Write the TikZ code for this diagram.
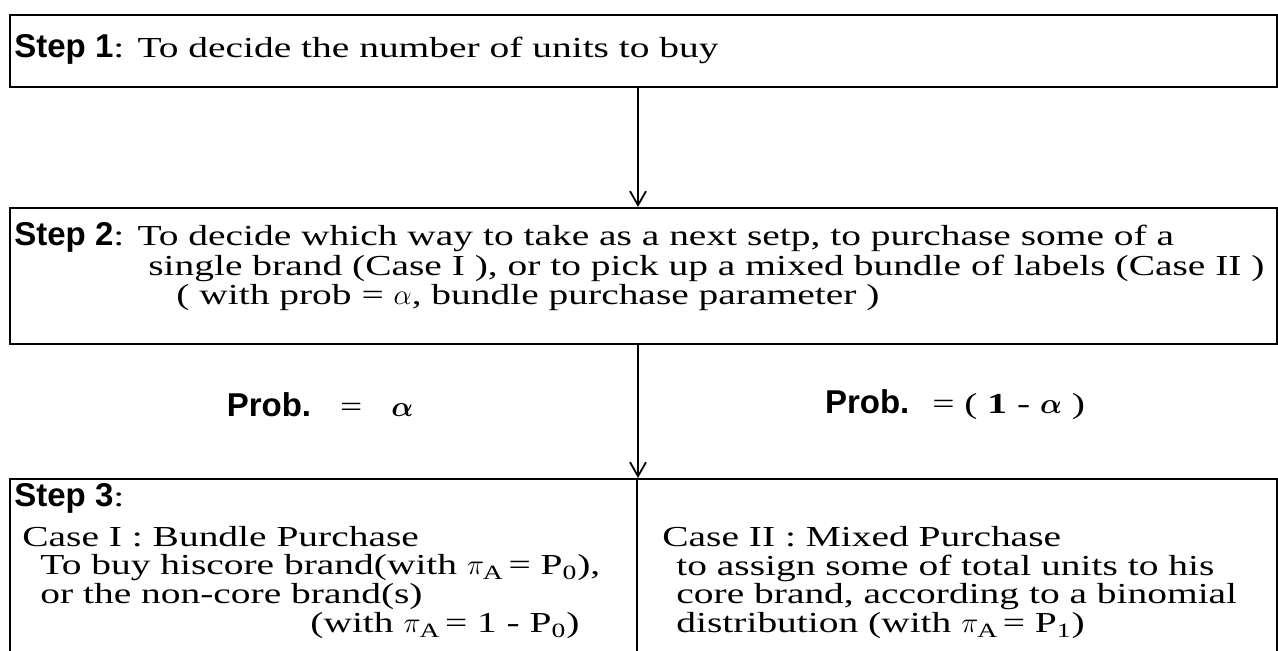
\documentclass[tikz,border=0pt]{standalone}
\usepackage{amsmath}
\usepackage{fontspec}
\setmainfont{Liberation Serif}[FakeStretch=1.36]
\setsansfont{Liberation Sans}
\usetikzlibrary{arrows.meta}
\tikzset{
  box/.style={draw, line width=1pt, anchor=north west, inner sep=0pt},
  txt/.style={anchor=west, inner sep=0pt, font=\fontsize{14.5}{16}\selectfont},
  flow/.style={line width=0.9pt, -{Straight Barb[length=7pt,width=8pt,line width=0.9pt]}}
}
\newcommand{\stp}[1]{{\sffamily\bfseries\fontsize{16.5}{18}\selectfont #1}}
\newcommand{\piA}{$\pi_{\mathrm{A}}$}
\begin{document}
\begin{tikzpicture}[x=0.5pt,y=-0.5pt]
\useasboundingbox (0,0) rectangle (1278,650);
\clip (0,0) rectangle (1278,650);
\node[box, minimum width=633.5pt, minimum height=36pt] (s1) at (9,14) {};
\node[box, minimum width=633.5pt, minimum height=68pt] (s2) at (9,207) {};
\node[box, minimum width=313.5pt, minimum height=111pt] (c1) at (9,478) {};
\node[box, minimum width=320pt, minimum height=111pt] (c2) at (636,478) {};
\draw[flow] (s1.south -| c1.north east) -- (s2.north -| c1.north east);
\draw[flow] (s2.south -| c1.north east) -- (c1.north east);
\node[txt] (t1) at (14,49) {\stp{Step 1}: To decide the number of units to buy};
\node[txt] (t2a) at (14,237) {\stp{Step 2}: To decide which way to take as a next setp, to purchase some of a};
\node[txt] (t2b) at (148,268) {single brand (Case I ), or to pick up a mixed bundle of labels (Case II )};
\node[txt] (t2c) at (176,298) {( with prob = $\alpha$, bundle purchase parameter )};
\node[txt, anchor=center] (pa) at (320,405) {\stp{Prob.}\quad=\quad$\boldsymbol{\alpha}$};
\node[txt, anchor=center] (pb) at (955,405) {\stp{Prob.} \ = ( \textbf{1} - $\boldsymbol{\alpha}$ )};
\node[txt] (t3) at (14,498) {\stp{Step 3}:};
\node[txt] (a1) at (22,537) {Case I : Bundle Purchase};
\node[txt] (a2) at (40,568) {To buy hiscore brand(with \piA{} = P\textsubscript{0}),};
\node[txt] (a3) at (40,597) {or the non-core brand(s)};
\node[txt] (a4) at (310,626) {(with \piA{} = 1 - P\textsubscript{0})};
\node[txt] (b1) at (662,537) {Case II : Mixed Purchase};
\node[txt] (b2) at (676,568) {to assign some of total units to his};
\node[txt] (b3) at (676,597) {core brand, according to a binomial};
\node[txt] (b4) at (676,626) {distribution (with \piA{} = P\textsubscript{1})};
\end{tikzpicture}
\end{document}
